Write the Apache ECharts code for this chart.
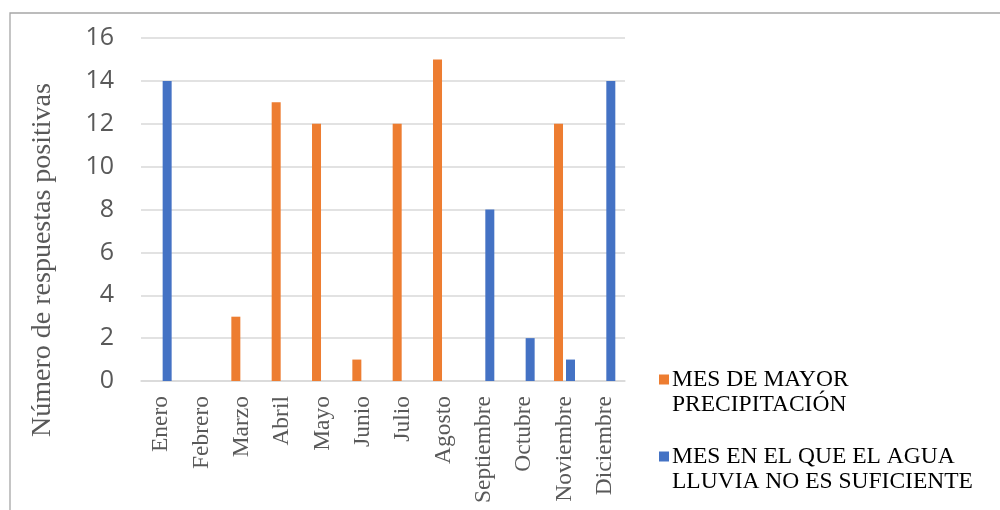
<!DOCTYPE html>
<html>
<head>
<meta charset="utf-8">
<script src="https://cdn.jsdelivr.net/npm/echarts@6/dist/echarts.min.js"></script>
<style>
  html, body { margin: 0; padding: 0; background: #fff; }
  #chart { width: 1000px; height: 510px; }
</style>
</head>
<body>
<div id="chart"></div>
<script>
// Months on the category axis
const meses = ['Enero', 'Febrero', 'Marzo', 'Abril', 'Mayo', 'Junio', 'Julio',
  'Agosto', 'Septiembre', 'Octubre', 'Noviembre', 'Diciembre'];

// Positive answers per month for each question
const mayorPrecipitacion = [0, 0, 3, 13, 12, 1, 12, 15, 0, 0, 12, 0];
const aguaNoSuficiente = [14, 0, 0, 0, 0, 0, 0, 0, 8, 2, 1, 14];

const serieNombres = ['MES DE MAYOR\nPRECIPITACIÓN', 'MES EN EL QUE EL AGUA\nLLUVIA NO ES SUFICIENTE'];
const colores = ['#ED7D31', '#4472C4'];

const serif = '"Liberation Serif", "Times New Roman", serif';
const sans = '"Open Sans", "Liberation Sans", sans-serif';

// Legend swatch: a small square sitting at the top of a taller box,
// so it lines up with the first line of a two-line label.
const swatch = 'path://M0,0H10V10H0Z M0,35L0,35';

const chart = echarts.init(document.getElementById('chart'), null, { renderer: 'canvas' });

chart.setOption({
  animation: false,
  backgroundColor: '#ffffff',
  color: colores,
  grid: {
    left: 141, right: 375, top: 38, bottom: 129,
    containLabel: false,
    outerBoundsMode: 'none'
  },
  graphic: [
    {
      type: 'rect',
      shape: { x: 10, y: 13, width: 1000, height: 520 },
      style: { fill: 'none', stroke: '#a6a6a6', lineWidth: 1.3 },
      silent: true
    },
    {
      type: 'text',
      x: 43, y: 260,
      rotation: Math.PI / 2,
      style: {
        text: 'Número de respuestas positivas',
        fill: '#595959',
        font: '28px ' + serif,
        align: 'center',
        verticalAlign: 'middle'
      },
      silent: true
    }
  ],
  legend: {
    orient: 'vertical',
    left: 654,
    top: 362,
    itemWidth: 10,
    itemHeight: 35,
    itemGap: 27,
    icon: swatch,
    textStyle: {
      fontFamily: serif,
      fontSize: 23.5,
      color: '#000000',
      lineHeight: 25,
      padding: [0, 0, 0, -2]
    },
    data: serieNombres
  },
  xAxis: {
    type: 'category',
    data: meses,
    name: 'MES',
    nameLocation: 'middle',
    nameGap: 117,
    nameTextStyle: { fontFamily: serif, fontSize: 23, color: '#595959' },
    axisLine: { show: true, lineStyle: { color: '#d9d9d9', width: 1.5 } },
    axisTick: { show: false },
    axisLabel: {
      rotate: 90,
      interval: 0,
      margin: 15,
      fontFamily: serif,
      fontSize: 23.5,
      color: '#595959'
    }
  },
  yAxis: {
    type: 'value',
    min: 0,
    max: 16,
    interval: 2,
    axisLine: { show: false },
    axisTick: { show: false },
    axisLabel: {
      margin: 27,
      fontFamily: sans,
      fontSize: 25,
      color: '#595959'
    },
    splitLine: { lineStyle: { color: '#d9d9d9', width: 1.5 } }
  },
  series: [
    {
      name: serieNombres[0],
      type: 'bar',
      data: mayorPrecipitacion,
      barWidth: 9,
      barGap: '33%',
      itemStyle: { color: colores[0] }
    },
    {
      name: serieNombres[1],
      type: 'bar',
      data: aguaNoSuficiente,
      barWidth: 9,
      barGap: '33%',
      itemStyle: { color: colores[1] }
    }
  ]
});
</script>
</body>
</html>
